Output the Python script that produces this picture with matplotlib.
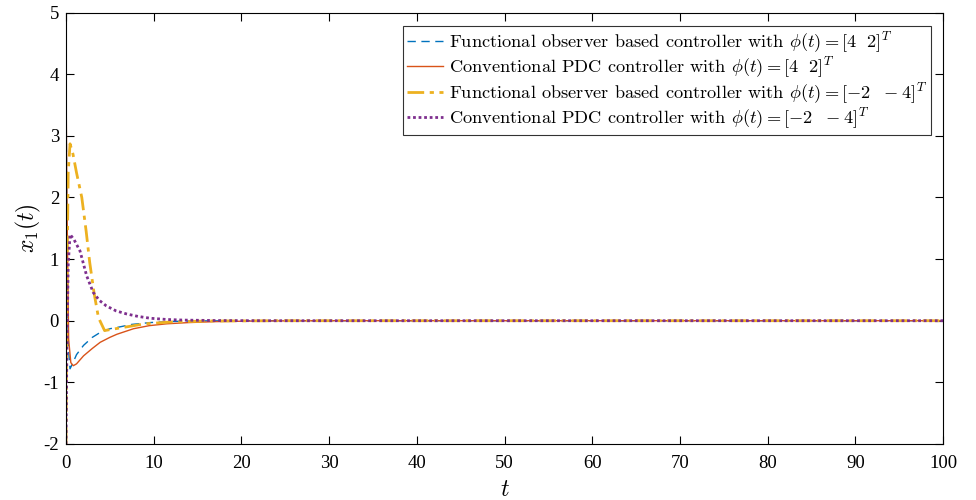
import numpy as np
import matplotlib
matplotlib.use("Agg")
import matplotlib.pyplot as plt

plt.rcParams['font.family'] = ['Liberation Serif', 'DejaVu Serif']
plt.rcParams['mathtext.fontset'] = 'cm'
plt.rcParams['axes.unicode_minus'] = False

# values
t_blue = [0, 0.1, 0.25, 0.46, 0.8, 1.2, 2.0, 3.0, 3.9, 5.0, 5.8, 7.5, 9.6, 12, 15, 20, 30, 100]
x_blue = [4.0, 1.5, -0.4, -0.78, -0.68, -0.55, -0.40, -0.27, -0.19, -0.13, -0.11, -0.06, -0.03, -0.012, -0.003, 0, 0, 0]

t_orange = [0, 0.1, 0.3, 0.55, 0.83, 1.2, 2.0, 3.0, 3.9, 5.0, 5.8, 7.7, 9.5, 11.5, 14, 17, 22, 30, 100]
x_orange = [4.0, 2.0, -0.3, -0.68, -0.73, -0.70, -0.57, -0.45, -0.35, -0.27, -0.22, -0.13, -0.08, -0.05, -0.03, -0.015, -0.004, 0, 0]

t_yellow = [0, 0.1, 0.25, 0.46, 0.8, 1.2, 1.8, 2.3, 2.7, 3.2, 3.7, 4.4, 5.2, 6.9, 9, 12, 16, 25, 100]
x_yellow = [-2.0, 0.5, 2.4, 2.87, 2.7, 2.4, 2.0, 1.45, 0.95, 0.45, 0.05, -0.16, -0.14, -0.10, -0.05, -0.02, -0.005, 0, 0]

t_purple = [0, 0.1, 0.25, 0.46, 0.9, 1.6, 2.35, 3.1, 3.8, 4.6, 5.7, 6.9, 8.2, 9.6, 11.5, 13.4, 17, 22, 100]
x_purple = [-2.0, -0.5, 0.9, 1.40, 1.32, 1.13, 0.73, 0.46, 0.33, 0.24, 0.16, 0.11, 0.07, 0.04, 0.02, 0.01, 0.003, 0, 0]

labels = [
    r'Functional observer based controller with $\phi(t)=[4\ \ 2]^T$',
    r'Conventional PDC controller with $\phi(t)=[4\ \ 2]^T$',
    r'Functional observer based controller with $\phi(t)=[-2\ \ -4]^T$',
    r'Conventional PDC controller with $\phi(t)=[-2\ \ -4]^T$',
]

fig = plt.figure(figsize=(9.76, 5), dpi=100)
ax = fig.add_axes([66 / 976, 56 / 500, 877 / 976, 431.5 / 500])

ax.plot(t_blue, x_blue, color='#0072BD', ls=(0, (6, 4)), lw=1.0, label=labels[0])
ax.plot(t_orange, x_orange, color='#D95319', ls='-', lw=1.0, label=labels[1])
ax.plot(t_yellow, x_yellow, color='#EDB120', ls=(0, (6, 2, 1.5, 2)), lw=2.0, label=labels[2])
ax.plot(t_purple, x_purple, color='#7E2F8E', ls=(0, (1, 1)), lw=2.0, label=labels[3])

ax.set_xlim(0, 100)
ax.set_ylim(-2, 5)
ax.set_xticks(np.arange(0, 101, 10))
ax.set_yticks(np.arange(-2, 6, 1))
ax.tick_params(direction='in', top=True, right=True, labelsize=13.5, length=6)
ax.tick_params(axis='x', pad=8)
ax.tick_params(axis='y', pad=5)
ax.set_xlabel(r'$t$', fontsize=17, labelpad=6)
ax.set_ylabel(r'$x_1(t)$', fontsize=17, labelpad=0)

leg = ax.legend(loc='upper right', bbox_to_anchor=(0.9863, 0.969),
                prop={'family': 'cmr10', 'size': 13.2},
                frameon=True, fancybox=False, edgecolor='black', borderaxespad=0,
                handlelength=2.0, handletextpad=0.3, labelspacing=0.0, borderpad=0.2)
leg.get_frame().set_linewidth(0.8)

fig.savefig('out.png', dpi=100)
